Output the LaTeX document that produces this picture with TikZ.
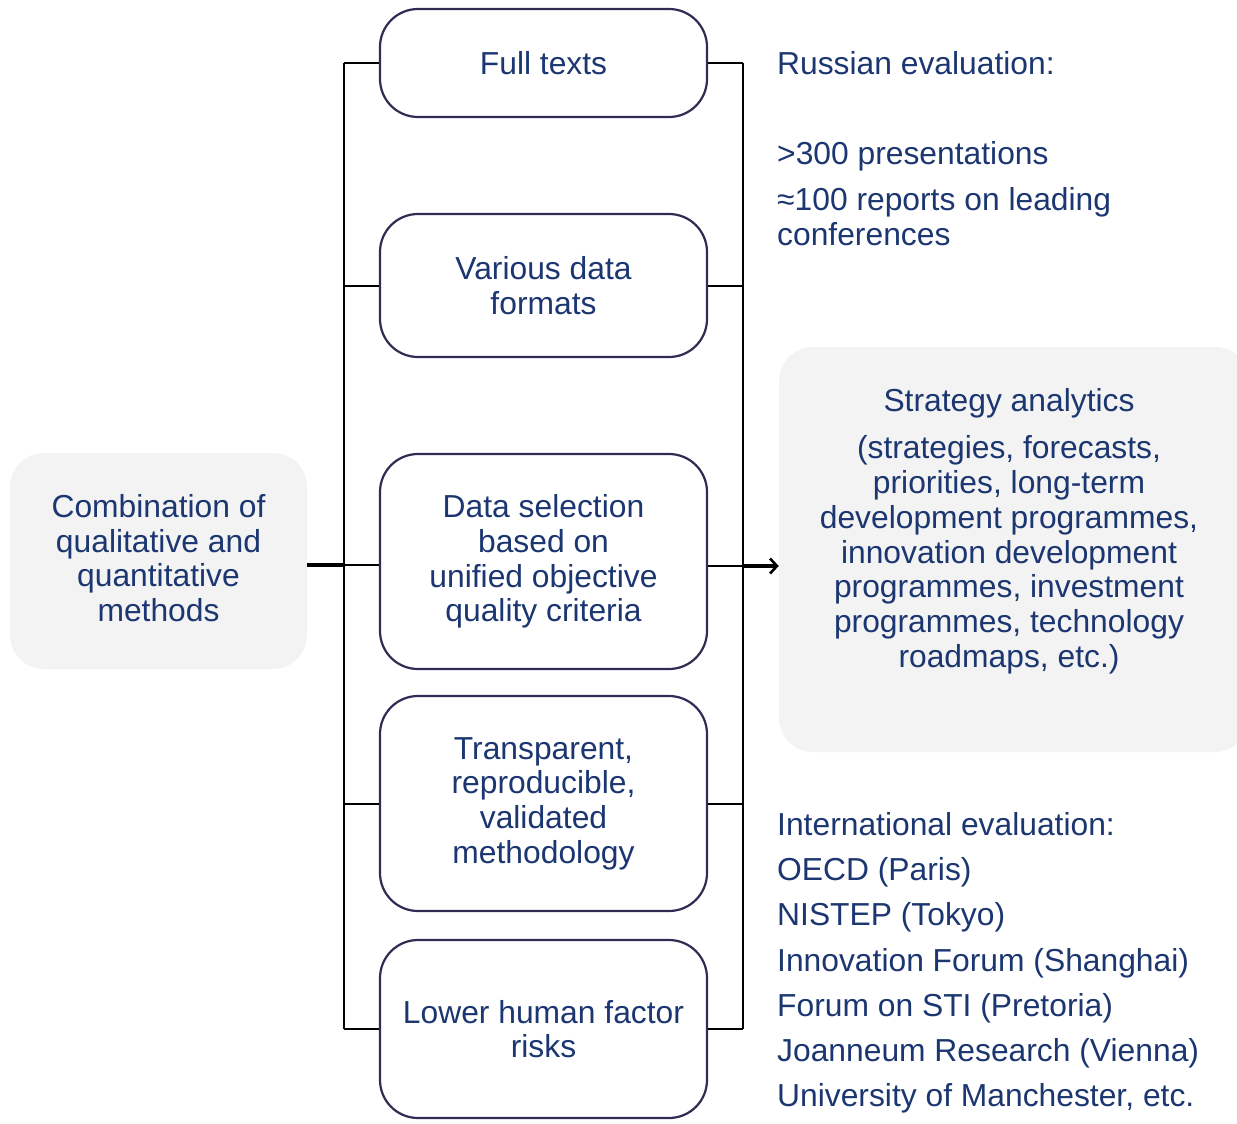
\documentclass[tikz,border=0pt]{standalone}
\usepackage{fontspec}
\setmainfont{Liberation Sans}
\usetikzlibrary{arrows.meta}
\definecolor{navy}{RGB}{27,54,112}
\definecolor{boxline}{RGB}{48,44,84}
\definecolor{panel}{RGB}{243,243,243}
\tikzset{
  txt/.style={text=navy, font=\fontsize{31.8}{34.7}\selectfont, inner sep=0pt},
  pill/.style={txt, draw=boxline, line width=2.2pt, fill=white, rounded corners=38pt,
    minimum width=327pt, align=center},
  panelbox/.style={fill=panel, draw=none, rounded corners=34pt},
  conn/.style={draw=black, line width=2pt},
  thickconn/.style={draw=black, line width=3.2pt},
  side/.style={txt, anchor=base west},
}
\begin{document}
\begin{tikzpicture}[x=1pt,y=-1pt]
\useasboundingbox (0,0) rectangle (1237,1124);
\clip (0,0) rectangle (1237,1124);

% left panel
\node[panelbox, minimum width=297pt, minimum height=216pt] (L) at (158.5,561) {};
\node[txt, align=center] (Lt) at (158.5,558) {Combination of\\qualitative and\\quantitative\\methods};

% right panel
\node[panelbox, minimum width=470pt, minimum height=405pt] (S) at (1014,549.5) {};
\node[txt, align=center] (St) at (1009,531) {Strategy analytics\\[13pt](strategies, forecasts,\\priorities, long-term\\development programmes,\\innovation development\\programmes, investment\\programmes, technology\\roadmaps, etc.)};

% middle boxes
\node[pill, minimum height=108pt] (b1) at (543.5,63) {Full texts};
\node[pill, minimum height=143pt] (b2) at (543.5,285.5) {Various data\\formats};
\node[pill, minimum height=215pt] (b3) at (543.5,561.5) {Data selection\\based on\\unified objective\\quality criteria};
\node[pill, minimum height=215pt] (b4) at (543.5,803.5) {Transparent,\\reproducible,\\validated\\methodology};
\node[pill, minimum height=178pt] (b5) at (543.5,1029) {Lower human factor\\risks};

% bus coordinates
\coordinate (lbus) at (344,0);
\coordinate (rbus) at (743,0);
\coordinate (jl) at (344,565);
\coordinate (jr) at (743,566);

% left bus
\draw[conn] (b1.west -| lbus) -- (b5.west -| lbus);
\foreach \b in {b1,b2,b4,b5} {\draw[conn] (\b.west) -- (\b.west -| lbus);}
\draw[conn] (b3.west |- jl) -- (jl);
\draw[thickconn] (L.east |- jl) -- (jl);

% right bus
\draw[conn] (b1.east -| rbus) -- (b5.east -| rbus);
\foreach \b in {b1,b2,b4,b5} {\draw[conn] (\b.east) -- (\b.east -| rbus);}
\draw[conn] (b3.east |- jr) -- (jr);
\draw[thickconn, -{Straight Barb[length=7pt,width=15pt,line width=2.6pt]}] (jr) -- (S.west |- jr);

% right texts
\node[side] (r1) at (777,74.5) {Russian evaluation:};
\node[side] (r2) at (777,164.5) {>300 presentations};
\node[side] (r3) at (777,210.5) {≈100 reports on leading};
\node[side] (r4) at (777,245) {conferences};

\node[side] (i1) at (777,835) {International evaluation:};
\node[side] (i2) at (777,880.5) {OECD (Paris)};
\node[side] (i3) at (777,925.5) {NISTEP (Tokyo)};
\node[side] (i4) at (777,971) {Innovation Forum (Shanghai)};
\node[side] (i5) at (777,1016) {Forum on STI (Pretoria)};
\node[side] (i6) at (777,1061.5) {Joanneum Research (Vienna)};
\node[side] (i7) at (777,1106.5) {University of Manchester, etc.};
\end{tikzpicture}
\end{document}
